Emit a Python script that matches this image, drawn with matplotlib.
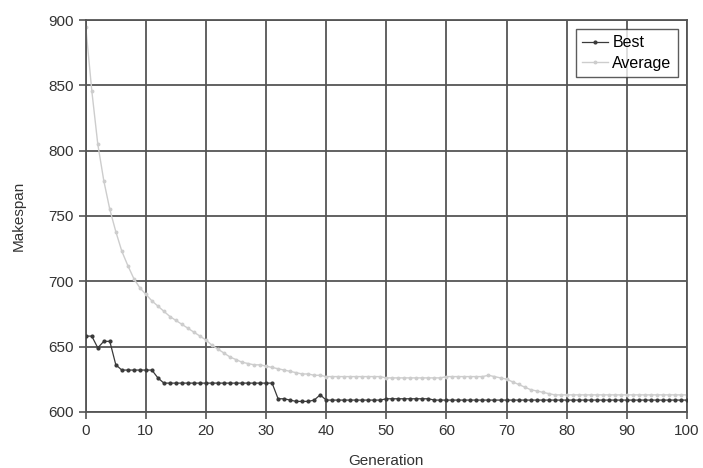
import matplotlib
matplotlib.use("Agg")
import matplotlib.pyplot as plt

plt.rcParams['font.family'] = ['Liberation Sans', 'DejaVu Sans']

generation = list(range(0, 101))

best = [658, 658, 649, 654, 654, 636, 632, 632, 632, 632,
        632, 632, 626, 622, 622, 622, 622, 622, 622, 622,
        622, 622, 622, 622, 622, 622, 622, 622, 622, 622,
        622, 622, 610, 610, 609, 608, 608, 608, 609, 613,
        609, 609, 609, 609, 609, 609, 609, 609, 609, 609,
        610, 610, 610, 610, 610, 610, 610, 610, 609, 609,
        609, 609, 609, 609, 609, 609, 609, 609, 609, 609,
        609, 609, 609, 609, 609, 609, 609, 609, 609, 609,
        609, 609, 609, 609, 609, 609, 609, 609, 609, 609,
        609, 609, 609, 609, 609, 609, 609, 609, 609, 609,
        609]

average = [895, 846, 805, 777, 755, 738, 723, 712, 702, 695,
           690, 685, 681, 677, 673, 670, 667, 664, 661, 658,
           655, 651, 648, 645, 642, 640, 638, 637, 636, 636,
           635, 634, 633, 632, 631, 630, 629, 629, 628, 628,
           627, 627, 627, 627, 627, 627, 627, 627, 627, 627,
           626, 626, 626, 626, 626, 626, 626, 626, 626, 626,
           627, 627, 627, 627, 627, 627, 627, 628, 627, 626,
           625, 623, 621, 619, 617, 616, 615, 614, 613, 613,
           613, 613, 613, 613, 613, 613, 613, 613, 613, 613,
           613, 613, 613, 613, 613, 613, 613, 613, 613, 613,
           613]

fig = plt.figure(figsize=(7.03, 4.68), dpi=100)
ax = fig.add_axes([0.122, 0.12, 0.855, 0.837])

ax.plot(generation, best, color='#3a3a3a', lw=0.9, marker='o', ms=2.0,
        label='Best', zorder=3)
ax.plot(generation, average, color='#cdcdcd', lw=1.0, marker='o', ms=1.8,
        label='Average', zorder=2)

ax.set_xlim(0, 100)
ax.set_ylim(600, 900)
ax.set_xticks(range(0, 101, 10))
ax.set_yticks(range(600, 901, 50))
ax.grid(True, color='#555555', lw=1.3)
ax.set_axisbelow(True)
for s in ax.spines.values():
    s.set_color('#555555')
    s.set_linewidth(1.3)
ax.tick_params(direction='out', length=5, width=1.2, color='#555555',
               labelsize=11, labelcolor='#333333')

ax.set_xlabel('Generation', fontsize=11, color='#333333', labelpad=12)
ax.set_ylabel('Makespan', fontsize=11, color='#333333', labelpad=16)

leg = ax.legend(loc='upper right', fontsize=11.5, frameon=True, fancybox=False,
                edgecolor='#333333', borderpad=0.4, handlelength=1.6,
                handletextpad=0.3, labelspacing=0.35, borderaxespad=0.55)
leg.get_frame().set_linewidth(1.0)

fig.savefig('out.png', dpi=100)
